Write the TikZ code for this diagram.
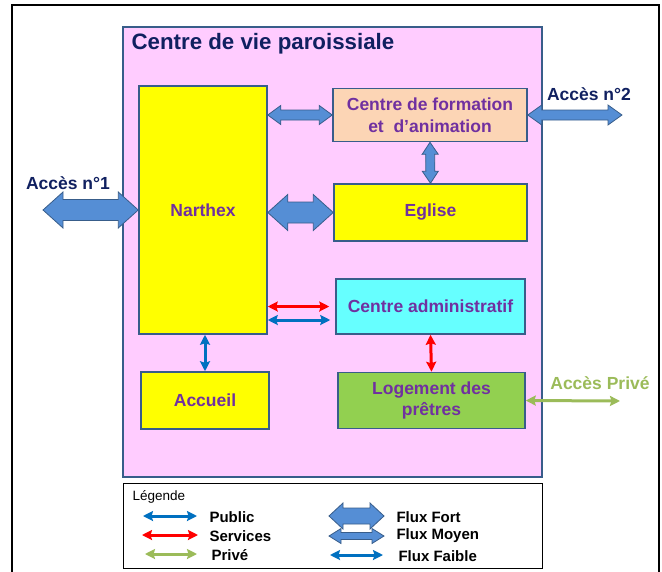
\documentclass[tikz,border=0pt]{standalone}
\usepackage{fontspec}
\setmainfont{Liberation Sans}
\usetikzlibrary{calc,arrows.meta}
\definecolor{cadre}{RGB}{56,93,138}
\definecolor{rose}{RGB}{255,204,255}
\definecolor{peche}{RGB}{252,213,181}
\definecolor{jaune}{RGB}{255,255,0}
\definecolor{cyan1}{RGB}{102,255,255}
\definecolor{vert}{RGB}{146,208,80}
\definecolor{violet1}{RGB}{112,48,160}
\definecolor{marine}{RGB}{16,32,96}
\definecolor{fluxfill}{RGB}{85,142,213}
\definecolor{bleu}{RGB}{0,112,192}
\definecolor{rouge}{RGB}{255,0,0}
\definecolor{vertclair}{RGB}{155,187,89}
% double block arrow: #1 start, #2 end, #3 half head, #4 half shaft, #5 head length
\newcommand{\flux}[5]{%
  \draw[flux] let \p1=(#1), \p2=(#2), \n1={atan2(\y2-\y1,\x2-\x1)} in
    (\p1) -- ($(\p1)+(\n1:#5)+(\n1+90:#3)$) -- ($(\p1)+(\n1:#5)+(\n1+90:#4)$)
    -- ($(\p2)+(\n1+180:#5)+(\n1+90:#4)$) -- ($(\p2)+(\n1+180:#5)+(\n1+90:#3)$)
    -- (\p2) -- ($(\p2)+(\n1+180:#5)+(\n1-90:#3)$) -- ($(\p2)+(\n1+180:#5)+(\n1-90:#4)$)
    -- ($(\p1)+(\n1:#5)+(\n1-90:#4)$) -- ($(\p1)+(\n1:#5)+(\n1-90:#3)$) -- cycle;}
\begin{document}
\begin{tikzpicture}
  [x=1pt,y=-1pt,
  box/.style={rectangle,draw=cadre,line width=1.5pt,align=center,inner sep=0pt,
                  text=violet1,font={\fontsize{17.5}{21.5}\selectfont\bfseries}},
  acces/.style={font={\fontsize{17.5}{21}\selectfont\bfseries},text=marine},
  leg/.style={anchor=west,font={\fontsize{15}{17}\selectfont\bfseries}},
  flux/.style={fill=fluxfill,draw=cadre,line width=0.8pt,line join=miter},
  public/.style={draw=bleu,line width=3pt,
                  {Stealth[length=10pt,width=10pt,inset=1.5pt]}-{Stealth[length=10pt,width=10pt,inset=1.5pt]}},
  services/.style={public,draw=rouge},
  prive/.style={public,draw=vertclair}
                  ]
  \useasboundingbox (0,0) rectangle (662,571);
  \draw[black,line width=1.2pt] (12,5) rectangle (659,600);

  \node[box,fill=rose,minimum width=419pt,minimum height=450pt] (paroisse) at (332.5,252) {};
  \node[anchor=west,text=marine,font={\fontsize{22.3}{26}\selectfont\bfseries}] (titre) at (128,44)
    {Centre de vie paroissiale};

  \node[box,fill=jaune,minimum width=128pt,minimum height=248pt] (narthex) at (203,210) {Narthex};
  \node[box,fill=peche,minimum width=194pt,minimum height=53pt] (formation) at (430,115)
    {Centre de formation\\et\ \ d’animation};
  \node[box,fill=jaune,minimum width=193pt,minimum height=57pt] (eglise) at (430.5,212.5) {Eglise};
  \node[box,fill=cyan1,minimum width=189pt,minimum height=55pt] (admin) at (430.5,306.5)
    {Centre administratif};
  \node[box,fill=jaune,minimum width=128pt,minimum height=57pt] (accueil) at (205,400.5) {Accueil};
  \node[box,fill=vert,minimum width=187pt,minimum height=56pt] (logement) at (431.5,400.5)
    {Logement des\\prêtres};

  \node[acces] (acces1t) at (68,183) {Accès n°1};
  \node[acces] (acces2t) at (589,94) {Accès n°2};
  \node[acces,text=vertclair] (privet) at (600,383) {Accès Privé};
  \coordinate (acces1) at (43,210);
  \coordinate (acces2) at (622,115);
  \coordinate (prive) at (620,401);

  \flux{acces1}{narthex.west}{18pt}{10.5pt}{20pt}
  \flux{narthex.east |- eglise.west}{eglise.west}{18pt}{10.5pt}{20pt}
  \flux{narthex.east |- formation.west}{formation.west}{9.5pt}{5pt}{13pt}
  \flux{formation.east}{acces2}{10pt}{5pt}{14pt}
  \flux{formation.south}{eglise.north}{8pt}{4.5pt}{12pt}

  \draw[services] (narthex.east |- admin.west) to ($(admin.west)+(-6,0)$);
  \draw[public] ($(narthex.east |- admin.west)+(0,13.5)$) to ($(admin.west)+(-5,13.5)$);
  \draw[public] (accueil.north |- narthex.south) to (accueil.north);
  \draw[services] (admin.south) to (logement.north);
  \draw[prive] (logement.east) to (prive);

  % legende
  \node[draw=black,line width=0.8pt,fill=white,minimum width=419pt,minimum height=85pt] (legende)
    at (332.5,525.5) {};
  \node[anchor=west,font={\fontsize{13.5}{16}\selectfont}] (legt) at (129,497) {Légende};
  \coordinate (lpublic) at (143,516);
  \coordinate (lservices) at (142,535);
  \coordinate (lprive) at (145,554);
  \draw[public] (lpublic) -- ++(54,0);
  \draw[services] (lservices) -- ++(56,0);
  \draw[prive] (lprive) -- ++(52,0);
  \node[leg] (lpublict) at (206,517) {Public};
  \node[leg] (lservicest) at (206,536) {Services};
  \node[leg] (lprivet) at (208,555) {Privé};
  \coordinate (lfort) at (329,516);
  \coordinate (lfortb) at (384,516);
  \coordinate (lmoyen) at (329,536);
  \coordinate (lmoyenb) at (384,536);
  \coordinate (lfaible) at (330,555);
  \flux{lfort}{lfortb}{13pt}{8pt}{14pt}
  \flux{lmoyen}{lmoyenb}{7.5pt}{3.5pt}{12pt}
  \draw[public] (lfaible) -- ++(53,0);
  \node[leg] (lfortt) at (393,517) {Flux Fort};
  \node[leg] (lmoyent) at (393,536) {Flux Moyen};
  \node[leg] (lfaiblet) at (395,556) {Flux Faible};
\end{tikzpicture}
\end{document}
